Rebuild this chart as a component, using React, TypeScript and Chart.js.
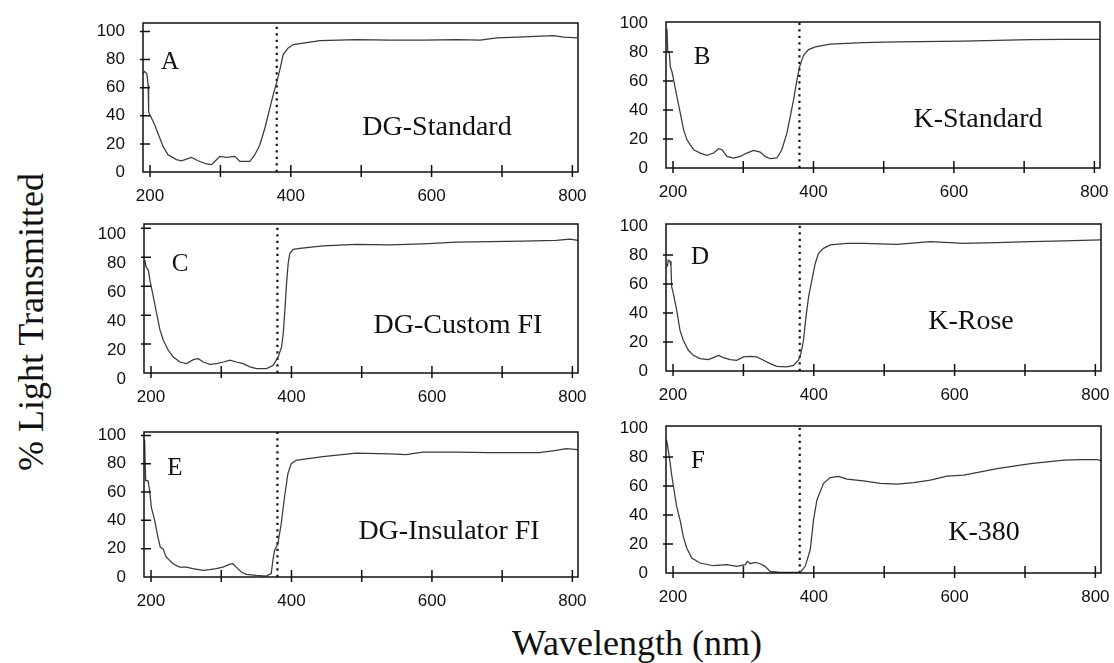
import React, { useEffect, useRef } from "react";
import { Chart, registerables } from "chart.js";

Chart.register(...registerables);

// ---------- data ----------
const X_MIN = 190;
const X_MAX = 808;
const X_TICKS = [200, 300, 400, 500, 600, 700, 800];
const Y_TICKS = [0, 20, 40, 60, 80, 100];
const CUTOFF_NM = 380;

const panelLetters = ["A", "B", "C", "D", "E", "F"];
const panelNames = ["DG-Standard", "K-Standard", "DG-Custom FI", "K-Rose", "DG-Insulator FI", "K-380"];
const panelYMax = [106, 100.6, 103, 101.4, 102.4, 101.3];

const wlA = [190, 192, 195.5, 197.3, 198, 199.5, 206.6, 213.8, 218.5, 225.6, 237.5, 244.6, 258.9, 268.2, 280.2, 287.3, 292, 299.1, 308.7, 320.5, 327.6, 341.8, 348.9, 356.1, 363.2, 370.3, 375, 379.8, 384.5, 389.2, 396.3, 403.4, 441.4, 493.5, 540.9, 588.3, 635.8, 669, 692.7, 730.6, 773.3, 787.5, 807];
const trA = [70, 71.5, 70, 62, 43, 41, 33.6, 24.2, 18.2, 12.3, 8.8, 8, 10.4, 8, 5.7, 5.2, 7.5, 11.1, 10.4, 11.1, 7.5, 7.5, 12.3, 19.4, 31.3, 45.6, 55, 63.4, 72.9, 83.5, 88.3, 90.7, 93.4, 94.2, 93.8, 93.8, 94.2, 93.8, 95.4, 96.1, 97, 96, 95.4];

const wlB = [191.4, 192.4, 194.7, 196.2, 198.5, 200.9, 205.6, 210.4, 215.1, 219.9, 224.6, 229.4, 238.8, 248.3, 257.8, 264.9, 269.7, 276.8, 286.3, 295.8, 305.2, 314.7, 324.2, 331.3, 338.4, 347.9, 355, 362.1, 366.9, 371.6, 376.4, 380.2, 385.9, 393, 402.5, 423.8, 471.2, 518.6, 613.5, 708.3, 755.8, 808];
const trB = [96, 81, 78.9, 69.7, 66.3, 60.6, 49, 37.7, 26.3, 19.4, 16, 12.6, 10.3, 8.7, 10.3, 13.3, 12.6, 8, 6.9, 8, 10.3, 12.1, 11, 8, 6.4, 6.9, 12.6, 24, 35.4, 46.9, 60.6, 69.7, 77.7, 81.6, 83.4, 85.3, 86.4, 86.9, 87.5, 88.5, 88.7, 88.7];

const wlC = [191.4, 192.8, 196.2, 198.5, 203.3, 208, 212.8, 217.5, 224.6, 231.7, 241.2, 250.7, 260.2, 267.3, 274.4, 283.9, 293.4, 302.9, 312.4, 321.8, 331.3, 340.8, 350.3, 364.5, 374, 381.1, 385.9, 388.3, 390.6, 393, 395.3, 397.7, 402.5, 411.9, 445.1, 492.6, 540, 587.4, 634.8, 682.2, 729.7, 777.1, 796.1, 808];
const trC = [78, 73.5, 71, 64, 52.7, 41, 29.6, 22.7, 15.7, 11.1, 7.6, 6.5, 9.2, 9.9, 7.6, 6, 6.5, 7.6, 8.8, 7.6, 6.5, 4.2, 3, 3, 5.3, 11.1, 18, 27.3, 43.5, 62, 75.8, 82.8, 85.5, 86.2, 87.9, 89, 88.6, 89.3, 90.4, 90.9, 91.1, 91.6, 92.5, 91.6];

const wlD = [191.9, 193.3, 195.7, 197.1, 198.1, 200.4, 205.2, 209.9, 214.7, 221.8, 228.9, 238.4, 250.2, 259.7, 264.5, 271.6, 281.1, 290.5, 300, 309.5, 319, 328.5, 338, 347.4, 361.7, 371.2, 378.3, 381.6, 385.4, 387.8, 390.1, 392.5, 397.2, 402, 406.7, 413.8, 423.3, 447, 470.7, 518.2, 565.6, 613, 660.4, 707.9, 755.3, 808];
const trD = [72, 76.5, 75.8, 72, 58, 53.5, 42, 28, 21, 14.3, 10.8, 8.5, 7.8, 9.7, 10.8, 9.2, 7.8, 7.4, 9.7, 10.1, 9.7, 7.4, 5.1, 3.2, 2.8, 3.9, 7.4, 12, 21.2, 32.7, 42, 51, 62.7, 74.2, 81.2, 84.6, 87, 88, 88, 87.4, 89.2, 88, 88.5, 89.2, 89.7, 90.4];

const wlE = [190.9, 192.4, 195.7, 198.1, 200.4, 205.2, 209.9, 213.2, 217, 221.8, 231.3, 240.7, 250.2, 259.7, 273.9, 283.4, 292.9, 302.4, 311.9, 316.6, 321.4, 328.5, 335.6, 349.8, 364, 371.2, 373.5, 375.9, 380.6, 385.4, 390.1, 394.9, 399.6, 406.7, 421, 444.7, 492.1, 539.5, 563.2, 586.9, 634.4, 681.8, 753, 776.8, 791.1, 807.7];
const trE = [96.5, 68, 68, 61, 49.4, 40, 28, 21, 20, 14, 9.4, 7, 7, 5.9, 4.7, 5.2, 5.9, 7, 8.9, 9.4, 7, 3.5, 1.9, 1.2, 0.7, 2.4, 11.8, 18.8, 23.5, 37.6, 56.5, 73, 80, 82.4, 83.5, 85, 87.5, 87, 86.4, 88.2, 88.2, 87.8, 87.8, 89.4, 90.6, 89.9];

const wlF = [190.5, 191.8, 194.7, 198.1, 201.4, 205.2, 209.9, 214.6, 219.4, 226.6, 238.4, 257.3, 276.4, 290.6, 302.4, 305.7, 309.5, 316.6, 323.7, 330.8, 338, 352.2, 380.7, 387.8, 394.9, 399.6, 404.4, 413.8, 423.3, 435, 447, 470.7, 494.5, 518.2, 541.9, 565.6, 589.3, 613, 636.7, 660.4, 684.1, 707.9, 731.6, 755.3, 779, 802.7, 808];
const trF = [92, 89.2, 80, 67.4, 57.2, 45.7, 36.6, 25.1, 17.2, 10.3, 6.9, 5, 5.7, 4.6, 5.7, 8, 6.4, 7.3, 6.4, 4.6, 1.1, 0.4, 0.4, 4.6, 16, 36.6, 50.3, 61.8, 65.8, 66.5, 64.7, 63.5, 61.7, 61.3, 62.2, 64, 66.7, 67.4, 69.7, 72, 73.6, 75.4, 76.6, 77.7, 78.2, 78.2, 77.3];

const SERIES: [number[], number[]][] = [
  [wlA, trA],
  [wlB, trB],
  [wlC, trC],
  [wlD, trD],
  [wlE, trE],
  [wlF, trF],
];

// ---------- layout (page pixels) ----------
type Layout = {
  left: number; top: number; right: number; bottom: number;
  letter: [number, number]; name: [number, number]; labelShift: number;
};
const LAYOUT: Layout[] = [
  { left: 143, top: 23, right: 578, bottom: 172, letter: [170, 61], name: [437, 126], labelShift: 0 },
  { left: 666, top: 22, right: 1100, bottom: 168, letter: [702, 56], name: [978, 118], labelShift: 0 },
  { left: 144, top: 224, right: 578, bottom: 373, letter: [180, 263], name: [458, 324], labelShift: 6 },
  { left: 666, top: 224, right: 1101, bottom: 371, letter: [700, 256], name: [971, 320], labelShift: 0 },
  { left: 144, top: 432, right: 578, bottom: 577, letter: [175, 467], name: [449, 530], labelShift: 0 },
  { left: 666, top: 426, right: 1101, bottom: 573, letter: [698, 460], name: [984, 531], labelShift: 0 },
];

const PADL = 70;
const PADT = 36;
const PADR = 36;
const PADB = 40;
const INK = "#111";
const SANS = '"Liberation Sans", Arial, sans-serif';
const SERIF = '"Liberation Serif", "Times New Roman", serif';

function Panel({ idx }: { idx: number }) {
  const ref = useRef<HTMLCanvasElement | null>(null);
  const L = LAYOUT[idx];
  const cx = L.left - PADL;
  const cy = L.top - PADT;
  const w = L.right - L.left + PADL + PADR;
  const h = L.bottom - L.top + PADT + PADB;

  useEffect(() => {
    const [wl, tr] = SERIES[idx];
    const n = Math.min(wl.length, tr.length);
    const pts = [];
    for (let i = 0; i < n; i++) pts.push({ x: wl[i], y: tr[i] });
    const yMax = panelYMax[idx];

    const deco = {
      id: "deco" + idx,
      afterDatasetsDraw(chart: any) {
        const { ctx, chartArea } = chart;
        const { left, right, top, bottom } = chartArea;
        const xs = chart.scales.x;
        const ys = chart.scales.y;
        ctx.save();
        ctx.strokeStyle = INK;
        ctx.lineWidth = 1.5;
        ctx.strokeRect(left, top, right - left, bottom - top);
        ctx.beginPath();
        X_TICKS.forEach((v) => {
          const px = xs.getPixelForValue(v);
          ctx.moveTo(px, bottom - 7);
          ctx.lineTo(px, bottom + 5);
        });
        Y_TICKS.forEach((v) => {
          const py = ys.getPixelForValue(v);
          if (py < bottom - 3 && py > top + 3) {
            ctx.moveTo(left - 3, py);
            ctx.lineTo(left + 7, py);
          }
        });
        ctx.stroke();
        ctx.fillStyle = INK;
        ctx.textAlign = "center";
        ctx.textBaseline = "alphabetic";
        ctx.font = `25px ${SERIF}`;
        ctx.fillText(panelLetters[idx], L.letter[0] - cx, L.letter[1] + 0.33 * 25 - cy);
        ctx.font = `28px ${SERIF}`;
        ctx.fillText(panelNames[idx], L.name[0] - cx, L.name[1] + 0.33 * 28 - cy);
        ctx.restore();
      },
    };

    const chart = new Chart(ref.current as HTMLCanvasElement, {
      type: "line",
      data: {
        datasets: [
          {
            data: pts,
            borderColor: "#3a3a3a",
            borderWidth: 1.25,
            pointRadius: 0,
            tension: 0,
          },
          {
            data: [
              { x: CUTOFF_NM, y: 0 },
              { x: CUTOFF_NM, y: yMax },
            ],
            borderColor: INK,
            borderWidth: 2.2,
            borderDash: [2.2, 4.3],
            pointRadius: 0,
          },
        ],
      },
      options: {
        animation: false,
        responsive: false,
        maintainAspectRatio: false,
        events: [],
        layout: { padding: { left: 0, top: PADT, right: PADR, bottom: 0 } },
        plugins: { legend: { display: false }, tooltip: { enabled: false } },
        scales: {
          x: {
            type: "linear",
            min: X_MIN,
            max: X_MAX,
            grid: { display: false, drawTicks: false },
            border: { display: false },
            afterFit: (s: any) => {
              s.height = PADB;
            },
            afterBuildTicks: (s: any) => {
              s.ticks = X_TICKS.map((v) => ({ value: v }));
            },
            ticks: {
              autoSkip: false,
              maxRotation: 0,
              minRotation: 0,
              padding: 14,
              color: INK,
              font: { family: SANS, size: 17 },
              callback: (v: any) => (Number(v) % 200 === 0 ? String(v) : ""),
            },
          },
          y: {
            type: "linear",
            min: 0,
            max: yMax,
            grid: { display: false, drawTicks: false },
            border: { display: false },
            afterFit: (s: any) => {
              s.width = PADL;
            },
            afterBuildTicks: (s: any) => {
              s.ticks = Y_TICKS.map((v) => ({ value: v }));
            },
            ticks: {
              padding: 18,
              labelOffset: L.labelShift,
              color: INK,
              font: { family: SANS, size: 17 },
              callback: (v: any) => String(v),
            },
          },
        },
      } as any,
      plugins: [deco],
    });
    return () => chart.destroy();
  }, [idx]);

  return (
    <canvas
      ref={ref}
      width={w}
      height={h}
      style={{ position: "absolute", left: cx, top: cy, width: w, height: h }}
    />
  );
}

export default function App() {
  return (
    <div
      style={{
        position: "fixed",
        left: 0,
        top: 0,
        width: 1114,
        height: 663,
        background: "#fff",
        overflow: "hidden",
      }}
    >
      {[0, 1, 2, 3, 4, 5].map((i) => (
        <Panel key={i} idx={i} />
      ))}
      <div
        style={{
          position: "absolute",
          left: 31,
          top: 322,
          transform: "translate(-50%, -50%) rotate(-90deg)",
          whiteSpace: "nowrap",
          font: `36px ${SERIF}`,
          lineHeight: 1,
          color: INK,
        }}
      >
        % Light Transmitted
      </div>
      <div
        style={{
          position: "absolute",
          left: 637,
          top: 643,
          transform: "translate(-50%, -50%)",
          whiteSpace: "nowrap",
          font: `36px ${SERIF}`,
          lineHeight: 1,
          color: INK,
        }}
      >
        Wavelength (nm)
      </div>
    </div>
  );
}
